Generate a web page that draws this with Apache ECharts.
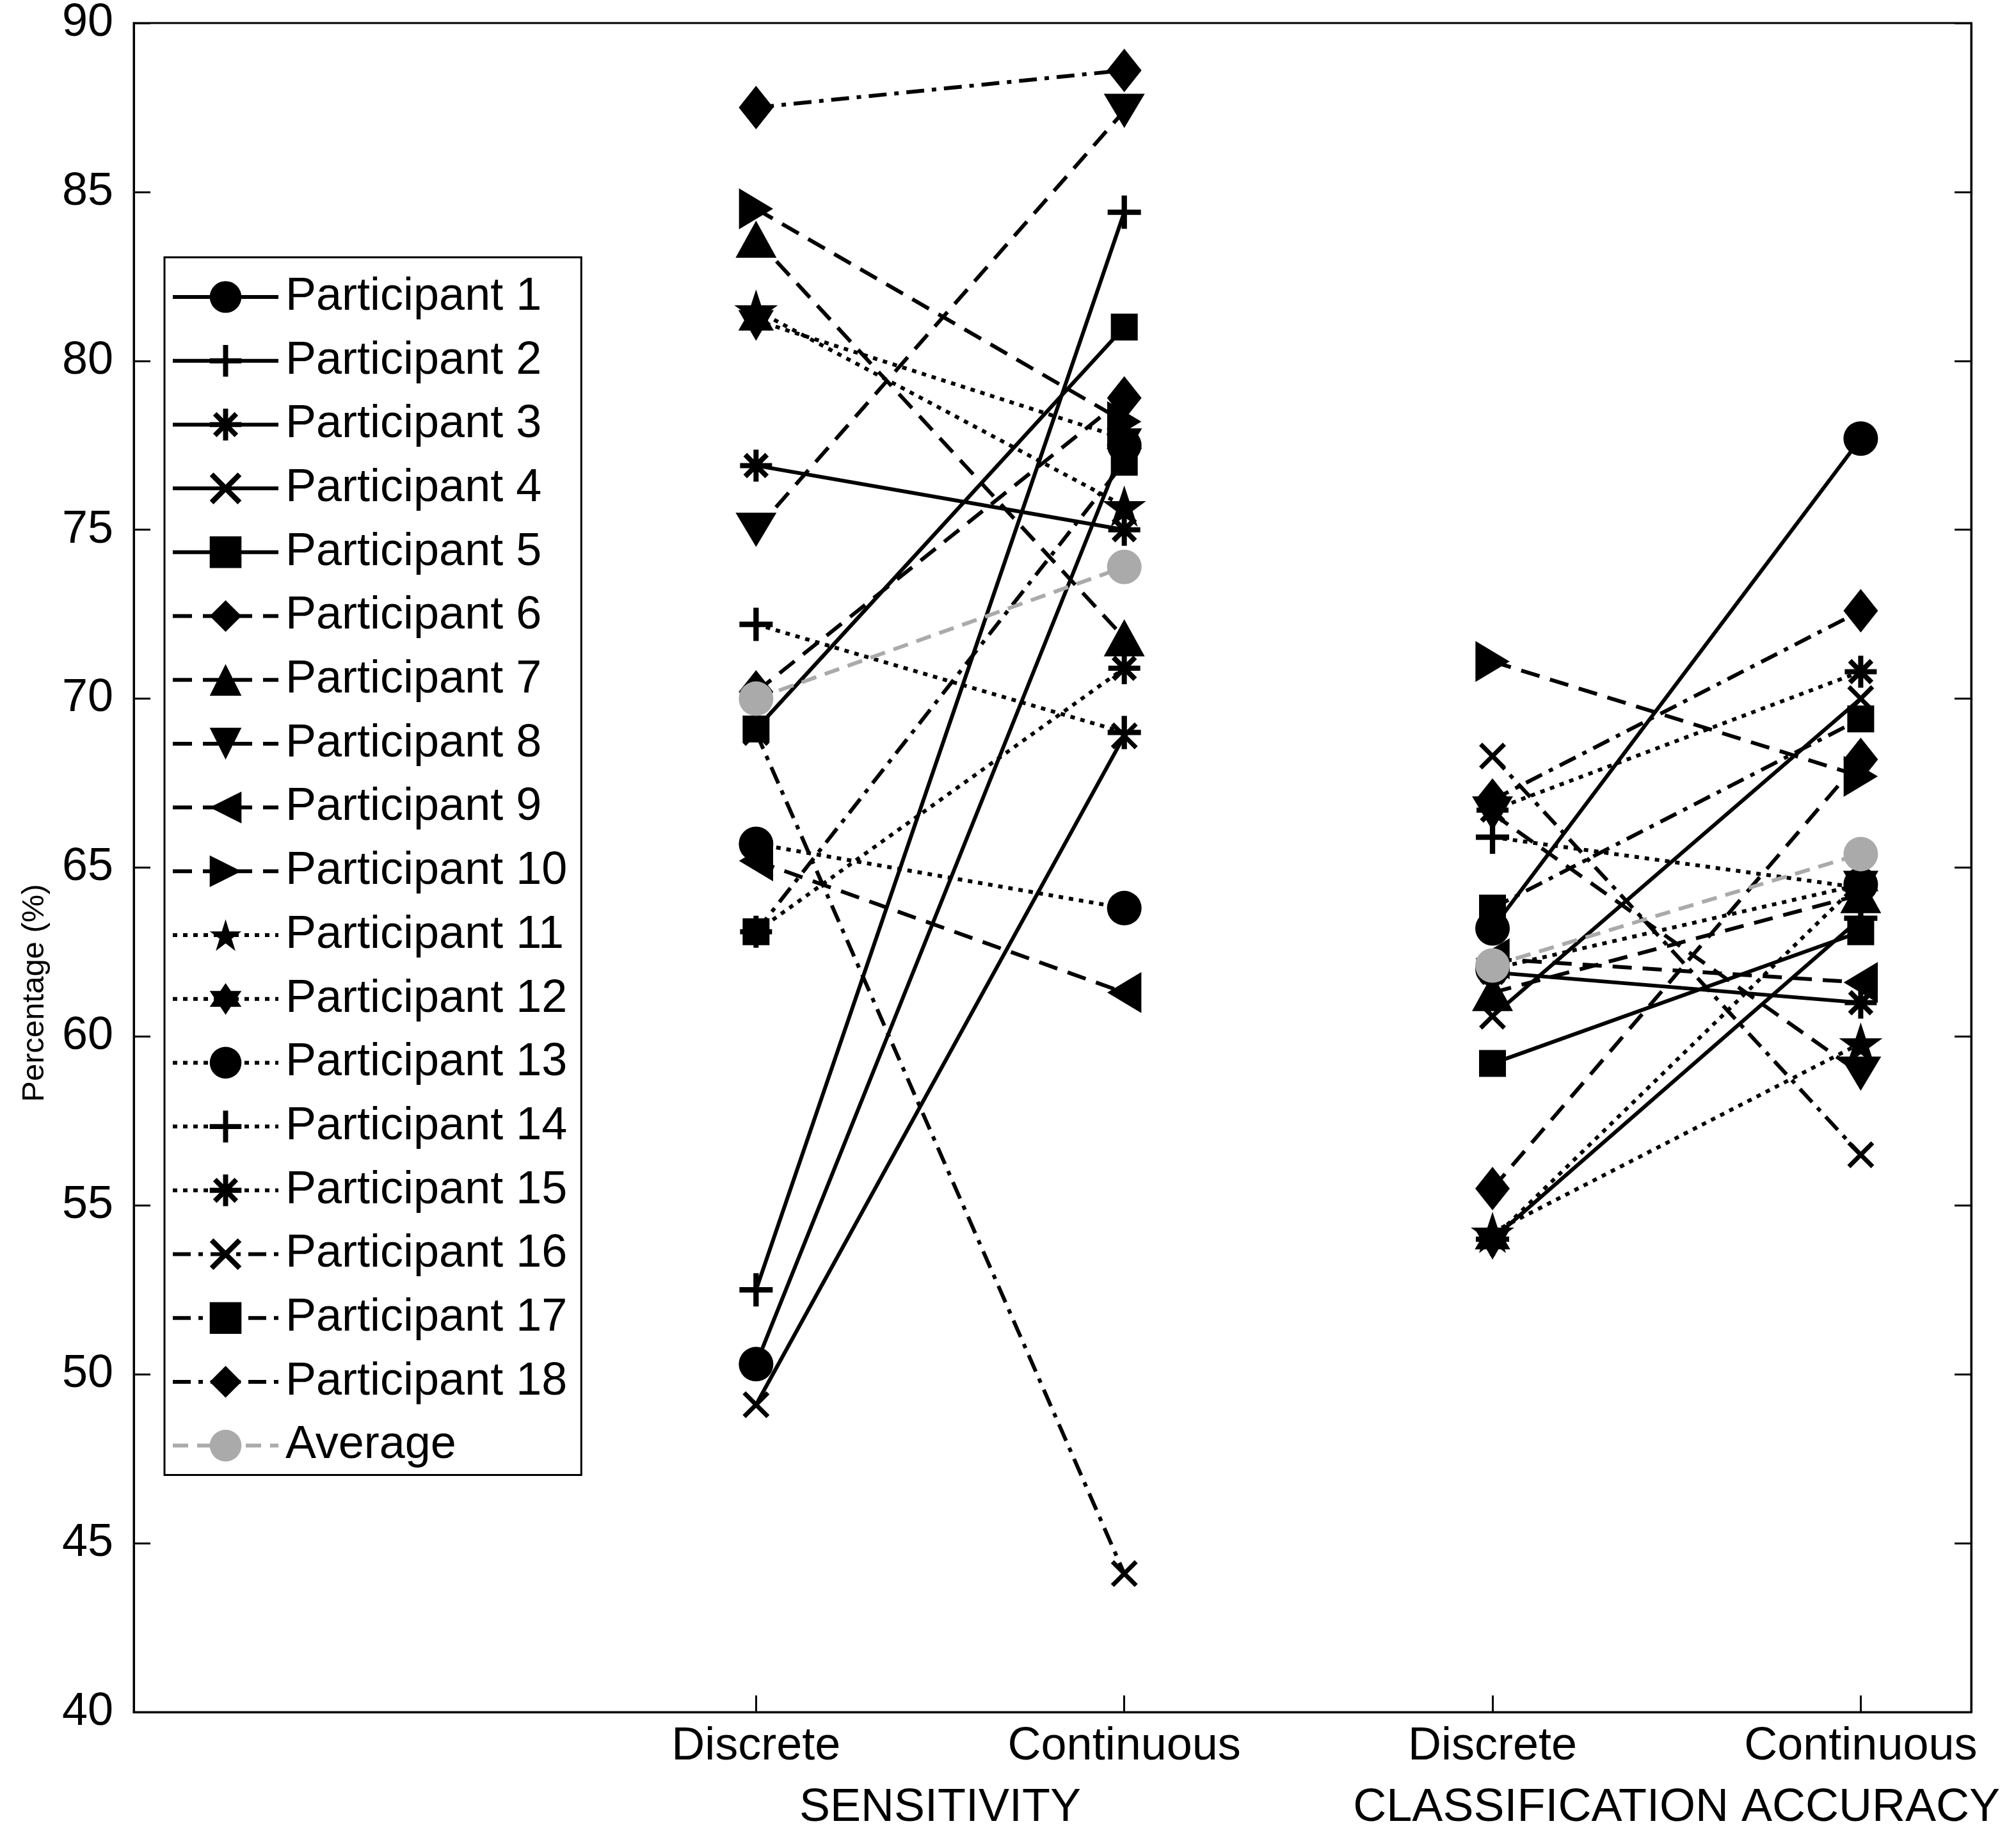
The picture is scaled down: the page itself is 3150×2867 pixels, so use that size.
<!DOCTYPE html>
<html>
<head>
<meta charset="utf-8">
<title>Sensitivity and classification accuracy per participant</title>
<script src="https://cdn.jsdelivr.net/npm/echarts@6/dist/echarts.min.js"></script>
<style>
  html, body { margin: 0; padding: 0; background: #fff; }
  #container { width: 3150px; height: 2867px; }
</style>
</head>
<body>
<div id="container"></div>
<script>
// Values (percent), one entry per participant
const participants = [
  'Participant 1', 'Participant 2', 'Participant 3', 'Participant 4', 'Participant 5',
  'Participant 6', 'Participant 7', 'Participant 8', 'Participant 9', 'Participant 10',
  'Participant 11', 'Participant 12', 'Participant 13', 'Participant 14', 'Participant 15',
  'Participant 16', 'Participant 17', 'Participant 18'
];
const sensDiscrete   = [50.3, 52.5, 76.9, 49.1, 69.1, 70.2, 83.6, 75.0, 65.2, 84.5, 81.5, 81.2, 65.7, 72.2, 63.1, 69.0, 63.1, 87.5];
const sensContinuous = [77.5, 84.4, 75.0, 68.9, 81.0, 78.9, 71.8, 87.4, 61.3, 78.2, 75.7, 77.7, 63.8, 69.0, 70.9, 44.1, 77.0, 88.6];
const accDiscrete    = [63.2, 54.0, 61.9, 60.6, 59.2, 55.5, 61.3, 66.6, 62.3, 71.1, 54.2, 54.0, 62.0, 65.9, 66.7, 68.3, 63.8, 67.0];
const accContinuous  = [77.7, 63.5, 61.0, 70.0, 63.1, 68.2, 64.2, 58.9, 61.6, 67.7, 59.8, 64.6, 64.5, 64.4, 70.8, 56.5, 69.4, 72.6];
const averageSens = [70.0, 73.9];
const averageAcc  = [62.1, 65.4];

// x positions of the four conditions and their labels
const conditionX = [1, 2, 3, 4];
const conditionLabels = ['Discrete', 'Continuous', 'Discrete', 'Continuous'];
const groupX = [1.5, 3.5];
const groupLabels = ['SENSITIVITY', 'CLASSIFICATION ACCURACY'];
const yTicks = { min: 40, max: 90, step: 5 };

const FONT = '"Liberation Sans", Arial, Helvetica, sans-serif';

// ---- marker shapes (MATLAB style) ----
function pt(x, y) { return x.toFixed(2) + ',' + y.toFixed(2); }
function bar(angleDeg, len, w) {
  const a = angleDeg * Math.PI / 180;
  const dx = Math.cos(a) * len / 2, dy = Math.sin(a) * len / 2;
  const nx = -Math.sin(a) * w / 2, ny = Math.cos(a) * w / 2;
  return 'M' + pt(50 + dx + nx, 50 + dy + ny) + 'L' + pt(50 + dx - nx, 50 + dy - ny) +
    'L' + pt(50 - dx - nx, 50 - dy - ny) + 'L' + pt(50 - dx + nx, 50 - dy + ny) + 'Z';
}
function star(n, ratio) {
  let d = '';
  for (let i = 0; i < n * 2; i++) {
    const r = i % 2 === 0 ? 50 : 50 * ratio;
    const a = -Math.PI / 2 + i * Math.PI / n;
    d += (i === 0 ? 'M' : 'L') + pt(50 + r * Math.cos(a), 50 + r * Math.sin(a));
  }
  return d + 'Z';
}
const shapes = {
  circle:   { symbol: 'circle', size: 54 },
  plus:     { symbol: 'path://' + bar(0, 100, 16) + bar(90, 100, 16), size: 52 },
  asterisk: { symbol: 'path://' + bar(0, 100, 16) + bar(90, 100, 16) + bar(45, 96, 16) + bar(135, 96, 16), size: 50 },
  cross:    { symbol: 'path://' + bar(45, 136, 18) + bar(135, 136, 18), size: 42 },
  square:   { symbol: 'rect', size: 42 },
  diamond:  { symbol: 'diamond', size: [54, 68] },
  triUp:    { symbol: 'triangle', size: [64, 58] },
  triDown:  { symbol: 'path://M0,0L100,0L50,92Z', size: [64, 58] },
  triLeft:  { symbol: 'path://M92,0L92,100L0,50Z', size: [58, 64] },
  triRight: { symbol: 'path://M0,0L0,100L92,50Z', size: [58, 64] },
  penta:    { symbol: 'path://' + star(5, 0.382), size: 68 },
  hexa:     { symbol: 'path://' + star(6, 0.577), size: 64 }
};
const markerOrder = ['circle', 'plus', 'asterisk', 'cross', 'square', 'diamond', 'triUp', 'triDown',
  'triLeft', 'triRight', 'penta', 'hexa', 'circle', 'plus', 'asterisk', 'cross', 'square', 'diamond'];

const DASHED = [30, 17];
const DOTTED = [7, 9];
const DASHDOT = [28, 12, 7, 12];
function lineTypeFor(i) {
  if (i < 5) return 'solid';
  if (i < 10) return DASHED;
  if (i < 15) return DOTTED;
  return DASHDOT;
}

function pointsOf(d, c, d2, c2) {
  // '-' breaks the line between the two metric groups
  return [[conditionX[0], d], [conditionX[1], c], [2.5, '-'], [conditionX[2], d2], [conditionX[3], c2]];
}

const LINE_W = 6;

const series = participants.map((name, i) => {
  const shape = shapes[markerOrder[i]];
  return {
    name: name,
    type: 'line',
    data: pointsOf(sensDiscrete[i], sensContinuous[i], accDiscrete[i], accContinuous[i]),
    symbol: shape.symbol,
    symbolSize: shape.size,
    symbolKeepAspect: true,
    showAllSymbol: true,
    color: '#000',
    itemStyle: { color: '#000', borderWidth: 0 },
    lineStyle: { color: '#000', width: LINE_W, type: lineTypeFor(i) },
    emphasis: { disabled: true },
    clip: false,
    z: 2
  };
});
series.push({
  name: 'Average',
  type: 'line',
  data: pointsOf(averageSens[0], averageSens[1], averageAcc[0], averageAcc[1]),
  symbol: 'circle',
  symbolSize: 54,
  color: '#aaaaaa',
  itemStyle: { color: '#aaaaaa', borderWidth: 0 },
  lineStyle: { color: '#aaaaaa', width: LINE_W, type: [24, 14] },
  emphasis: { disabled: true },
  clip: false,
  z: 3
});

const container = document.getElementById('container');
const chart = echarts.init(container, null, { renderer: 'canvas' });

const labelFor = v => {
  const k = conditionX.indexOf(v);
  if (k >= 0) return conditionLabels[k];
  const g = groupX.indexOf(v);
  if (g >= 0) return '{g|' + groupLabels[g] + '}';
  return '';
};

const option = {
  backgroundColor: '#fff',
  animation: false,
  textStyle: { fontFamily: FONT },
  grid: {
    left: 209, right: 70, top: 34, bottom: 192,
    show: true, borderColor: '#000', borderWidth: 3, backgroundColor: '#fff'
  },
  legend: {
    orient: 'vertical',
    left: 257,
    top: 402,
    itemWidth: 165,
    itemHeight: 62,
    itemGap: 27.7,
    padding: [26, 22, 10, 10],
    backgroundColor: '#fff',
    borderColor: '#000',
    borderWidth: 3,
    selectedMode: false,
    lineStyle: { width: LINE_W },
    textStyle: { fontSize: 72, color: '#000', fontFamily: FONT, padding: [0, 0, 0, 6] },
    data: participants.concat(['Average'])
  },
  xAxis: {
    type: 'value',
    min: -0.69,
    max: 4.3,
    splitLine: { show: false },
    axisLine: { show: true, onZero: false, lineStyle: { color: '#000', width: 3 } },
    axisTick: {
      show: true, inside: true, length: 26,
      customValues: conditionX,
      lineStyle: { color: '#000', width: 3 }
    },
    axisLabel: {
      show: true,
      customValues: conditionX.concat(groupX),
      formatter: labelFor,
      fontSize: 72,
      color: '#000',
      fontFamily: FONT,
      margin: 18,
      rich: {
        g: { fontSize: 72, color: '#000', fontFamily: FONT, padding: [96, 0, 0, 0] }
      }
    }
  },
  yAxis: [{
    type: 'value',
    min: yTicks.min,
    max: yTicks.max,
    interval: yTicks.step,
    name: 'Percentage (%)',
    nameLocation: 'middle',
    nameGap: 130,
    nameTextStyle: { fontSize: 49, color: '#000', fontFamily: FONT, padding: [0, 392, 0, 0] },
    splitLine: { show: false },
    axisLine: { show: true, onZero: false, lineStyle: { color: '#000', width: 3 } },
    axisTick: { show: true, inside: true, length: 26, lineStyle: { color: '#000', width: 3 } },
    axisLabel: { fontSize: 72, color: '#000', fontFamily: FONT, margin: 32 }
  }, {
    type: 'value',
    position: 'right',
    min: yTicks.min,
    max: yTicks.max,
    interval: yTicks.step,
    splitLine: { show: false },
    axisLine: { show: true, onZero: false, lineStyle: { color: '#000', width: 3 } },
    axisTick: { show: true, inside: true, length: 26, lineStyle: { color: '#000', width: 3 } },
    axisLabel: { show: false }
  }],
  series: series
};

chart.setOption(option);
</script>
</body>
</html>
